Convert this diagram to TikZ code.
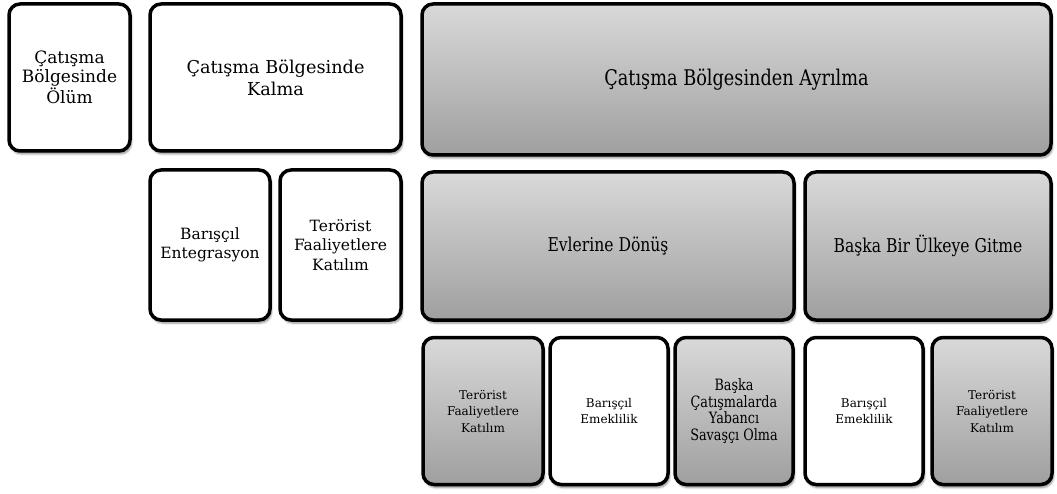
\documentclass[tikz,border=0pt]{standalone}
\usepackage{fontspec}
\setmainfont{DejaVu Serif}
\newfontfamily\narrowfont[FakeStretch=0.82]{DejaVu Serif}
\usetikzlibrary{shadows.blur}

\tikzset{
  stage/.style={draw=black, line width=3.5pt, rounded corners=11pt, align=center,
    inner sep=2pt, minimum height=147pt,
    blur shadow={shadow xshift=1.5pt, shadow yshift=-3pt, shadow blur steps=6, shadow opacity=45}},
  whitebox/.style={stage, fill=white},
  graybox/.style={stage, top color=gray!30, bottom color=gray!75},
  midfont/.style={font=\fontsize{15.5}{19.5}\selectfont},
  narrowtext/.style={font=\narrowfont\fontsize{19}{22}\selectfont},
  smallfont/.style={font=\fontsize{12}{16.5}\selectfont}
}

\begin{document}
\begin{tikzpicture}[x=1pt, y=-1pt]
  \useasboundingbox (0,0) rectangle (1057,494);

  % top row
  \node[whitebox, font=\fontsize{17}{19}\selectfont, minimum width=121pt] (olum) at (69.5,77.5) {Çatışma\\Bölgesinde\\Ölüm};
  \node[whitebox, font=\fontsize{17.7}{22}\selectfont, minimum width=251pt] (kalma) at (275.5,77.5) {Çatışma Bölgesinde\\Kalma};
  \node[graybox, font=\narrowfont\fontsize{21.6}{24}\selectfont, minimum width=629pt, minimum height=151pt] (ayrilma) at (736.5,79.5) {Çatışma Bölgesinden Ayrılma};

  % second row
  \node[whitebox, midfont, minimum width=120pt, minimum height=150pt] (entegrasyon) at (210,245) {Barışçıl\\Entegrasyon};
  \node[whitebox, midfont, minimum width=121pt, minimum height=150pt] (terorA) at (340.5,245) {Terörist\\Faaliyetlere\\Katılım};
  \node[graybox, narrowtext, minimum width=372pt, minimum height=148pt] (evlerine) at (608,246) {Evlerine Dönüş};
  \node[graybox, narrowtext, minimum width=246pt, minimum height=148pt] (baska) at (928,246) {Başka Bir Ülkeye Gitme};

  % third row
  \node[graybox, smallfont, minimum width=120pt] (terorB) at (483,411) {Terörist\\Faaliyetlere\\Katılım};
  \node[whitebox, smallfont, minimum width=118pt] (emeklilikA) at (609,411) {Barışçıl\\Emeklilik};
  \node[graybox, font=\narrowfont\fontsize{15.6}{16.5}\selectfont, minimum width=118pt] (yabanci) at (734,411) {Başka\\Çatışmalarda\\Yabancı\\Savaşçı Olma};
  \node[whitebox, smallfont, minimum width=118pt] (emeklilikB) at (864,411) {Barışçıl\\Emeklilik};
  \node[graybox, smallfont, minimum width=120pt] (terorC) at (992,411) {Terörist\\Faaliyetlere\\Katılım};
\end{tikzpicture}
\end{document}
